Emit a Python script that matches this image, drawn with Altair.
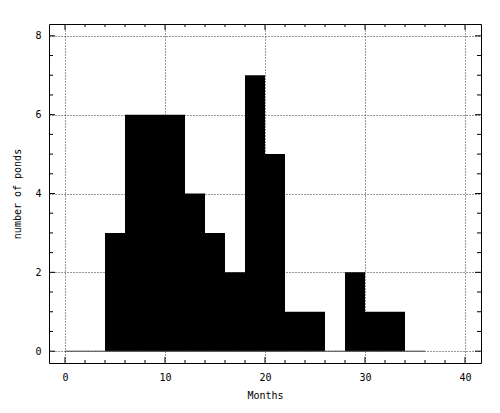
import altair as alt
import pandas as pd

# Histogram data (bin left edges in months, count of ponds)
bin_left = [0, 2, 4, 6, 8, 10, 12, 14, 16, 18, 20, 22, 24, 26, 28, 30, 32, 34]
counts = [0, 0, 3, 6, 6, 6, 4, 3, 2, 7, 5, 1, 1, 0, 2, 1, 1, 0]
bin_width = 2

x_major = [0, 10, 20, 30, 40]
y_major = [0, 2, 4, 6, 8]
x_minor = [v for v in range(0, 41, 2) if v % 10 != 0]
y_minor = [v / 2 for v in range(0, 17) if v % 4 != 0]

W, H = 432, 339
FONT = "DejaVu Sans Mono"

bars = pd.DataFrame({
    "left": bin_left,
    "right": [b + bin_width for b in bin_left],
    "count": counts,
})
base_line = pd.DataFrame({"x0": [bin_left[0]], "x1": [bin_left[-1] + bin_width], "y": [0]})

xs = alt.Scale(domain=[-1.6, 41.6], nice=False, zero=False)
ys = alt.Scale(domain=[-0.3, 8.3], nice=False, zero=False)

xaxis = alt.Axis(values=x_major, format="d", title="Months", grid=True, gridDash=[1, 2],
                 gridColor="#333", gridWidth=1, ticks=False, domain=False,
                 labelFont=FONT, labelFontSize=10, labelPadding=9, labelColor="black",
                 titleFont=FONT, titleFontSize=10, titleFontWeight="normal",
                 titlePadding=8, titleColor="black")
yaxis = alt.Axis(values=y_major, format="d", title="number of ponds", grid=True, gridDash=[1, 2],
                 gridColor="#333", gridWidth=1, ticks=False, domain=False,
                 labelFont=FONT, labelFontSize=10, labelPadding=8, labelColor="black",
                 titleFont=FONT, titleFontSize=10, titleFontWeight="normal",
                 titlePadding=12, titleColor="black")

rects = alt.Chart(bars).mark_rect(color="black").encode(
    x=alt.X("left:Q", scale=xs, axis=xaxis),
    x2="right:Q",
    y=alt.Y("count:Q", scale=ys, axis=yaxis),
    y2=alt.datum(0),
)

zero_line = alt.Chart(base_line).mark_rule(color="#444", strokeWidth=1).encode(
    x=alt.X("x0:Q", scale=xs), x2="x1:Q", y=alt.Y("y:Q", scale=ys)
)

def xticks(vals, length):
    df = pd.DataFrame({"v": vals})
    bottom = alt.Chart(df).mark_rule(color="black").encode(
        x=alt.X("v:Q", scale=xs), y=alt.value(H), y2=alt.value(H - length))
    top = alt.Chart(df).mark_rule(color="black").encode(
        x=alt.X("v:Q", scale=xs), y=alt.value(0), y2=alt.value(length))
    return [bottom, top]

def yticks(vals, length):
    df = pd.DataFrame({"v": vals})
    left = alt.Chart(df).mark_rule(color="black").encode(
        y=alt.Y("v:Q", scale=ys), x=alt.value(0), x2=alt.value(length))
    right = alt.Chart(df).mark_rule(color="black").encode(
        y=alt.Y("v:Q", scale=ys), x=alt.value(W), x2=alt.value(W - length))
    return [left, right]

layers = [rects, zero_line] + xticks(x_major, 6) + xticks(x_minor, 3) + yticks(y_major, 6) + yticks(y_minor, 4)

chart = alt.layer(*layers).properties(
    width=W, height=H,
    autosize=alt.AutoSizeParams(type="none"),
    padding={"left": 41, "top": 16, "right": 11, "bottom": 42},
    background="white",
).configure_view(stroke="black", strokeWidth=1)

chart.save("out.html", embed_options={"renderer": "svg", "actions": False})
